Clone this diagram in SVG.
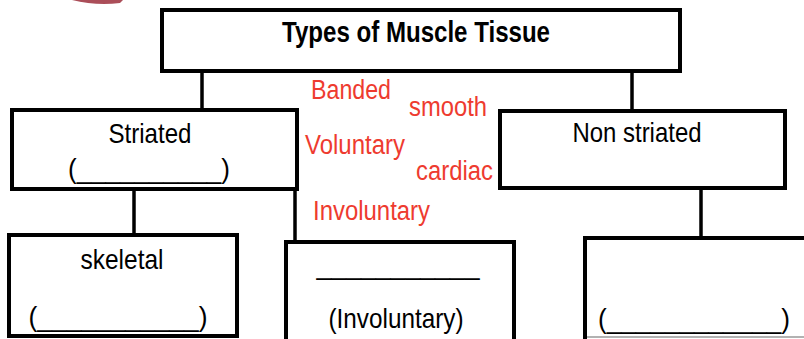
<svg xmlns="http://www.w3.org/2000/svg" width="804" height="339" viewBox="0 0 804 339">
<style>
.box{fill:#ffffff;stroke:#000000;stroke-width:4}
.conn{stroke:#000000;stroke-width:3.5;fill:none}
.t{font-family:"Liberation Sans",Arial,sans-serif;fill:#000000;font-size:28px}
.title{font-weight:bold;font-size:30px}
.red{font-family:"Liberation Sans",Arial,sans-serif;fill:#ee3b2f;font-size:27px}
</style>
<rect width="804" height="339" fill="#ffffff"/>
<path d="M72,0 Q96,6 120,3 L123,0 Z" fill="#9c2f3c" opacity="0.85"/>
<g id="connectors">
<line class="conn" x1="202" y1="71" x2="202" y2="110"/>
<line class="conn" x1="632" y1="71" x2="632" y2="111"/>
<line class="conn" x1="134" y1="189" x2="134" y2="235"/>
<line class="conn" x1="295" y1="189" x2="295" y2="242"/>
<line class="conn" x1="701" y1="188" x2="701" y2="238"/>
</g>
<g id="node-types">
<rect class="box" x="162" y="10" width="518" height="61"/>
<text class="t title" x="416" y="42" text-anchor="middle" textLength="268" lengthAdjust="spacingAndGlyphs">Types of Muscle Tissue</text>
</g>
<g id="node-striated">
<rect class="box" x="12" y="110" width="285" height="79"/>
<text class="t" x="150" y="143" text-anchor="middle" textLength="83" lengthAdjust="spacingAndGlyphs">Striated</text>
<text class="t" x="149" y="178" text-anchor="middle" textLength="162" lengthAdjust="spacingAndGlyphs">(__________)</text>
</g>
<g id="node-nonstriated">
<rect class="box" x="500" y="111" width="285" height="77"/>
<text class="t" x="637" y="142" text-anchor="middle" textLength="129" lengthAdjust="spacingAndGlyphs">Non striated</text>
</g>
<g id="node-skeletal">
<rect class="box" x="9" y="235" width="228" height="101"/>
<text class="t" x="122" y="269" text-anchor="middle" textLength="83" lengthAdjust="spacingAndGlyphs">skeletal</text>
<text class="t" x="118" y="326" text-anchor="middle" textLength="179" lengthAdjust="spacingAndGlyphs">(___________)</text>
</g>
<g id="node-involuntary">
<rect class="box" x="286" y="242" width="228" height="110"/>
<text class="t" x="398" y="274" text-anchor="middle" textLength="163" lengthAdjust="spacingAndGlyphs">___________</text>
<text class="t" x="396" y="328" text-anchor="middle" textLength="135" lengthAdjust="spacingAndGlyphs">(Involuntary)</text>
</g>
<g id="node-third">
<rect class="box" x="585" y="238" width="240" height="120"/>
<line x1="587" y1="337" x2="804" y2="337" stroke="#999999" stroke-width="1.5"/>
<text class="t" x="694" y="328" text-anchor="middle" textLength="192" lengthAdjust="spacingAndGlyphs">(____________)</text>
</g>
<g id="word-bank">
<text class="red" x="311" y="99" textLength="80" lengthAdjust="spacingAndGlyphs">Banded</text>
<text class="red" x="409" y="116" textLength="78" lengthAdjust="spacingAndGlyphs">smooth</text>
<text class="red" x="305" y="154" textLength="100" lengthAdjust="spacingAndGlyphs">Voluntary</text>
<text class="red" x="416" y="180" textLength="77" lengthAdjust="spacingAndGlyphs">cardiac</text>
<text class="red" x="313" y="220" textLength="117" lengthAdjust="spacingAndGlyphs">Involuntary</text>
</g>
</svg>
